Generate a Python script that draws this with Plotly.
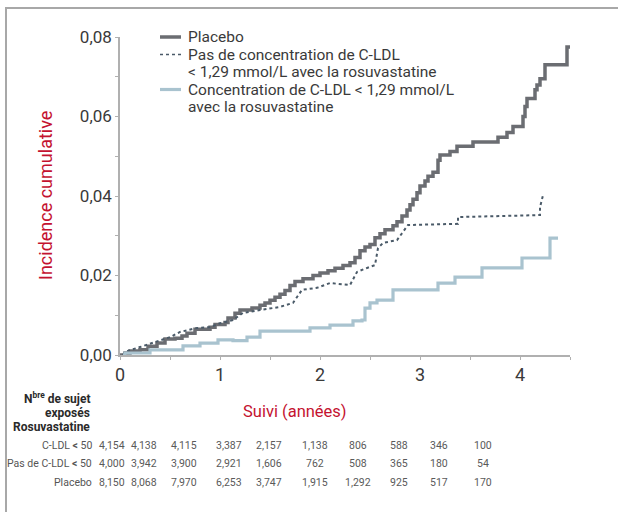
import plotly.graph_objects as go

# ---------------- data ----------------
placebo_t = [0.00, 0.05, 0.10, 0.20, 0.28, 0.37, 0.45, 0.55, 0.62, 0.67, 0.75, 0.90, 0.95, 1.05, 1.08,
             1.15, 1.20, 1.32, 1.40, 1.45, 1.50, 1.55, 1.60, 1.65, 1.70, 1.75, 1.83, 1.93, 2.00, 2.08,
             2.15, 2.23, 2.30, 2.35, 2.40, 2.45, 2.50, 2.55, 2.60, 2.65, 2.73, 2.77, 2.82, 2.87, 2.90,
             2.93, 2.97, 3.00, 3.05, 3.08, 3.13, 3.18, 3.20, 3.30, 3.37, 3.53, 3.78, 3.87, 3.93, 4.03,
             4.05, 4.07, 4.15, 4.17, 4.20, 4.25, 4.47, 4.50]
placebo_y = [0.0000, 0.0005, 0.0010, 0.0013, 0.0022, 0.0030, 0.0040, 0.0042, 0.0048, 0.0055, 0.0065,
             0.0070, 0.0077, 0.0082, 0.0093, 0.0105, 0.0113, 0.0118, 0.0125, 0.0131, 0.0138, 0.0145,
             0.0153, 0.0162, 0.0175, 0.0185, 0.0192, 0.0200, 0.0206, 0.0212, 0.0218, 0.0225, 0.0232,
             0.0245, 0.0262, 0.0272, 0.0278, 0.0295, 0.0305, 0.0315, 0.0325, 0.0335, 0.0350, 0.0365,
             0.0378, 0.0392, 0.0408, 0.0425, 0.0438, 0.0450, 0.0460, 0.0490, 0.0503, 0.0512, 0.0525,
             0.0536, 0.0548, 0.0560, 0.0575, 0.0600, 0.0625, 0.0645, 0.0667, 0.0679, 0.0695, 0.0730,
             0.0775, 0.0775]

no_ldl_t = [0.03, 0.05, 0.20, 0.30, 0.50, 0.60, 0.77, 0.90, 1.00, 1.13, 1.23, 1.40, 1.60, 1.73, 1.82,
            1.97, 2.10, 2.30, 2.37, 2.47, 2.55, 2.58, 2.63, 2.77, 2.88, 3.38, 3.38, 4.20, 4.20, 4.23]
no_ldl_y = [0.0000, 0.0008, 0.0020, 0.0028, 0.0045, 0.0058, 0.0068, 0.0070, 0.0080, 0.0088, 0.0106,
            0.0113, 0.0121, 0.0131, 0.0164, 0.0169, 0.0181, 0.0176, 0.0209, 0.0219, 0.0226, 0.0269,
            0.0282, 0.0289, 0.0327, 0.0330, 0.0347, 0.0352, 0.0372, 0.0402]

ldl_t = [0.03, 0.05, 0.30, 0.63, 0.80, 0.98, 1.13, 1.27, 1.40, 1.90, 2.10, 2.33, 2.42, 2.45, 2.50,
         2.57, 2.73, 3.18, 3.35, 3.62, 4.02, 4.30, 4.38]
ldl_y = [0.0000, 0.0005, 0.0013, 0.0023, 0.0030, 0.0038, 0.0036, 0.0045, 0.0060, 0.0068, 0.0075,
         0.0086, 0.0088, 0.0118, 0.0131, 0.0138, 0.0164, 0.0181, 0.0196, 0.0219, 0.0244, 0.0294,
         0.0294]

series_names = ["Placebo",
                "Pas de concentration de C-LDL < 1,29 mmol/L avec la rosuvastatine",
                "Concentration de C-LDL < 1,29 mmol/L avec la rosuvastatine"]
legend_lines = [
    ["Placebo"],
    ["Pas de concentration de C-LDL", "< 1,29 mmol/L avec la rosuvastatine"],
    ["Concentration de C-LDL < 1,29 mmol/L", "avec la rosuvastatine"],
]

x_tickvals = [0, 1, 2, 3, 4]
x_ticktext = ["0", "1", "2", "3", "4"]
x_minorvals = [0.5, 1.5, 2.5, 3.5, 4.5]
y_tickvals = [0, 0.02, 0.04, 0.06, 0.08]
y_ticktext = ["0,00", "0,02", "0,04", "0,06", "0,08"]
y_minorvals = [0.01, 0.03, 0.05, 0.07]

risk_labels = ["C-LDL <b><</b> 50", "Pas de C-LDL <b><</b> 50", "Placebo"]
risk_ldl = ["4,154", "4,138", "4,115", "3,387", "2,157", "1,138", "806", "588", "346", "100"]
risk_no_ldl = ["4,000", "3,942", "3,900", "2,921", "1,606", "762", "508", "365", "180", "54"]
risk_placebo = ["8,150", "8,068", "7,970", "6,253", "3,747", "1,915", "1,292", "925", "517", "170"]
risk_header = ["N<sup>bre</sup> de sujet", "exposés", "Rosuvastatine"]

# ---------------- layout constants ----------------
W, H = 618, 512
L, R, T, B = 120, 48, 37, 157
PW, PH = W - L - R, H - T - B
RED = "#c4122f"
FONT = "Roboto"
COLORS = ["#6b6d72", "#4a5a68", "#a9c3cf"]
WIDTHS = [3.5, 2, 3.2]
DASHES = ["solid", "dot", "solid"]
SHAPES = ["hv", "linear", "hv"]
TICKC = "#b0b0b0"

def px_x(p):
    return (p - L) / PW

def px_y(p):
    return (H - B - p) / PH

fig = go.Figure()
for t, y, nm, c, w, d, s in zip([placebo_t, no_ldl_t, ldl_t], [placebo_y, no_ldl_y, ldl_y], series_names,
                                COLORS, WIDTHS, DASHES, SHAPES):
    fig.add_trace(go.Scatter(x=t, y=y, mode="lines", name=nm, showlegend=False,
                             line=dict(color=c, width=w, dash=d, shape=s)))

axis_common = dict(showgrid=False, zeroline=False, showline=True, linecolor=TICKC, linewidth=1.5,
                   ticks="outside", ticklen=3, tickwidth=1.2, tickcolor=TICKC)
over_common = dict(showticklabels=False, showgrid=False, zeroline=False, showline=False,
                   ticks="inside", ticklen=3, tickwidth=1.2, tickcolor=TICKC)

fig.update_layout(
    width=W, height=H,
    margin=dict(l=L, r=R, t=T, b=B),
    paper_bgcolor="white", plot_bgcolor="white",
    separators=", ",
    font=dict(family=FONT, color="#3a3a3a"),
    showlegend=False,
    xaxis=dict(range=[0, 4.5], tickvals=x_tickvals, ticktext=x_ticktext,
               minor=dict(tickvals=x_minorvals, ticks="outside", ticklen=3, tickwidth=1.2,
                          tickcolor=TICKC, showgrid=False),
               tickfont=dict(size=18, color="#3a3a3a"), **axis_common),
    yaxis=dict(range=[0, 0.08], tickvals=y_tickvals, ticktext=y_ticktext,
               minor=dict(tickvals=y_minorvals, ticks="outside", ticklen=3, tickwidth=1.2,
                          tickcolor=TICKC, showgrid=False),
               tickfont=dict(size=17, color="#3a3a3a"), **axis_common),
    xaxis2=dict(overlaying="x", matches="x", anchor="y", range=[0, 4.5],
                tickvals=x_tickvals + x_minorvals, **over_common),
    yaxis2=dict(overlaying="y", matches="y", anchor="x", range=[0, 0.08],
                tickvals=y_tickvals + y_minorvals, **over_common),
)

# legend (drawn manually for tight line spacing)
leg_rows = [37, 54.5, 72, 89.5, 107]
row_i = 0
for k, lines in enumerate(legend_lines):
    ys = leg_rows[row_i]
    fig.add_shape(type="line", xref="paper", yref="paper", x0=px_x(160), x1=px_x(181),
                  y0=px_y(ys), y1=px_y(ys),
                  line=dict(color=COLORS[k], width=WIDTHS[k] if k != 1 else 1.6, dash=DASHES[k]))
    for ln in lines:
        fig.add_annotation(text=ln, xref="paper", yref="paper", x=px_x(186), y=px_y(leg_rows[row_i]),
                           showarrow=False, xanchor="left", yanchor="middle",
                           font=dict(size=15.5, color="#3a3a3a", family=FONT))
        row_i += 1

# frame
fig.add_shape(type="line", xref="paper", yref="paper", x0=px_x(5), x1=px_x(640), y0=px_y(8), y1=px_y(8),
              line=dict(color="#a8a8a8", width=2))
fig.add_shape(type="line", xref="paper", yref="paper", x0=px_x(6), x1=px_x(6), y0=px_y(8), y1=px_y(530),
              line=dict(color="#a8a8a8", width=2))

# axis titles
fig.add_annotation(text="Incidence cumulative", xref="paper", yref="paper", x=px_x(45), y=px_y(196),
                   textangle=-90, showarrow=False, font=dict(size=18, color=RED, family=FONT),
                   xanchor="center", yanchor="middle")
fig.add_annotation(text="Suivi (années)", xref="paper", yref="paper", x=px_x(295), y=px_y(411),
                   showarrow=False, font=dict(size=16.5, color=RED, family=FONT),
                   xanchor="center", yanchor="middle")

# risk table
for ln, hy in zip(risk_header, [398, 413, 427]):
    fig.add_annotation(text="<b>" + ln + "</b>", xref="paper", yref="paper", x=px_x(92), y=px_y(hy),
                       showarrow=False, xanchor="right", yanchor="middle",
                       font=dict(size=12, color="#2a2a2a", family=FONT))
row_y = [445, 463, 482]
col_x = [112, 144, 184, 229, 269, 315, 358, 399, 439, 483]
rows = [risk_ldl, risk_no_ldl, risk_placebo]
for lab, ry, vals in zip(risk_labels, row_y, rows):
    fig.add_annotation(text=lab, xref="paper", yref="paper", x=px_x(94), y=px_y(ry), showarrow=False,
                       xanchor="right", yanchor="middle", font=dict(size=10.5, color="#555555", family=FONT))
    for cx, v in zip(col_x, vals):
        fig.add_annotation(text=v, xref="paper", yref="paper", x=px_x(cx), y=px_y(ry), showarrow=False,
                           xanchor="center", yanchor="middle",
                           font=dict(size=10.5, color="#5a5a5a", family=FONT))

fig.write_html("out.html")
